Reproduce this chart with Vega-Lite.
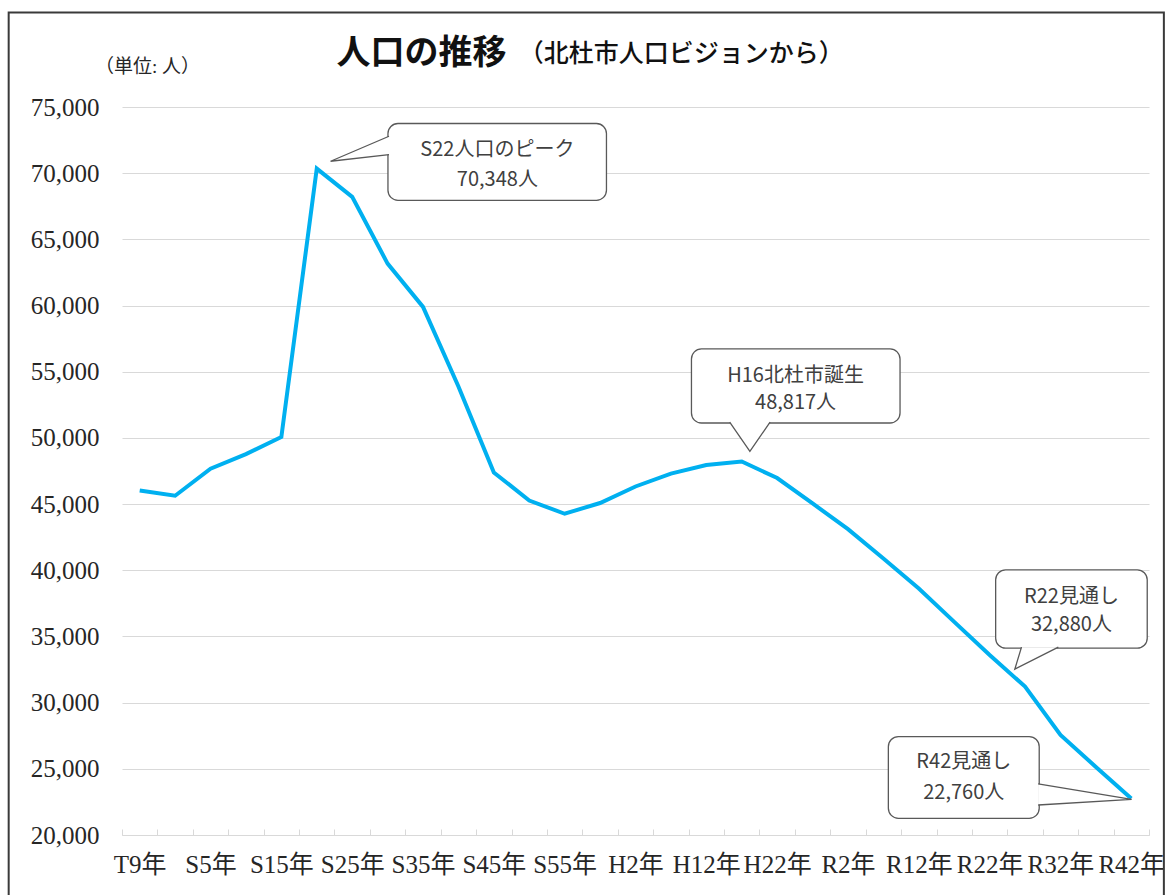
{
  "$schema": "https://vega.github.io/schema/vega-lite/v6.json",
  "autosize": {"type": "none"},
  "padding": {"left": 122, "top": 107, "right": 21, "bottom": 60},
  "width": 1027,
  "height": 728,
  "background": "white",
  "config": {"view": {"stroke": null}},
  "datasets": {
    "pop": [
      {"year": "T9年", "pop": 46030}, {"year": "T14年", "pop": 45630}, {"year": "S5年", "pop": 47670},
      {"year": "S10年", "pop": 48780}, {"year": "S15年", "pop": 50070}, {"year": "S22年", "pop": 70348},
      {"year": "S25年", "pop": 68210}, {"year": "S30年", "pop": 63170}, {"year": "S35年", "pop": 59900},
      {"year": "S40年", "pop": 53890}, {"year": "S45年", "pop": 47390}, {"year": "S50年", "pop": 45270},
      {"year": "S55年", "pop": 44270}, {"year": "S60年", "pop": 45080}, {"year": "H2年", "pop": 46330},
      {"year": "H7年", "pop": 47300}, {"year": "H12年", "pop": 47950}, {"year": "H17年", "pop": 48220},
      {"year": "H22年", "pop": 46970}, {"year": "H27年", "pop": 45050}, {"year": "R2年", "pop": 43110},
      {"year": "R7年", "pop": 40890}, {"year": "R12年", "pop": 38620}, {"year": "R17年", "pop": 36100},
      {"year": "R22年", "pop": 33600}, {"year": "R27年", "pop": 31210}, {"year": "R32年", "pop": 27560},
      {"year": "R37年", "pop": 25140}, {"year": "R42年", "pop": 22760}
    ],
    "boxes": [
      {"id": "a", "x1": 7.51, "x2": 13.68, "y1": 67953, "y2": 73752},
      {"id": "b", "x1": 16.08, "x2": 21.97, "y1": 51125, "y2": 56719},
      {"id": "c", "x1": 24.67, "x2": 28.95, "y1": 34114, "y2": 40034},
      {"id": "d", "x1": 21.64, "x2": 25.90, "y1": 21262, "y2": 27431}
    ],
    "pointers": [
      {"id": "a", "o": 1, "x": 7.54, "y": 72791}, {"id": "a", "o": 2, "x": 5.89, "y": 70901}, {"id": "a", "o": 3, "x": 7.54, "y": 71408},
      {"id": "b", "o": 1, "x": 17.16, "y": 51200}, {"id": "b", "o": 2, "x": 17.73, "y": 48977}, {"id": "b", "o": 3, "x": 18.30, "y": 51200},
      {"id": "c", "o": 1, "x": 25.40, "y": 34190}, {"id": "c", "o": 2, "x": 25.21, "y": 32527}, {"id": "c", "o": 3, "x": 26.44, "y": 34190},
      {"id": "d", "o": 1, "x": 25.87, "y": 23856}, {"id": "d", "o": 2, "x": 28.51, "y": 22699}, {"id": "d", "o": 3, "x": 25.87, "y": 22268}
    ],
    "notes": [
      {"x": 10.6, "y": 71786, "text": "S22人口のピーク"}, {"x": 10.6, "y": 69518, "text": "70,348人"},
      {"x": 19.02, "y": 54647, "text": "H16北杜市誕生"}, {"x": 19.02, "y": 52636, "text": "48,817人"},
      {"x": 26.81, "y": 38015, "text": "R22見通し"}, {"x": 26.81, "y": 35876, "text": "32,880人"},
      {"x": 23.77, "y": 25541, "text": "R42見通し"}, {"x": 23.77, "y": 23153, "text": "22,760人"}
    ],
    "frame": [{"x1": -3.2, "x2": 29.42, "y1": 14708, "y2": 82143}],
    "title1": [{"x": 8.46, "y": 78968, "text": "人口の推移"}],
    "title2": [{"x": 11.2, "y": 78968, "text": "（北杜市人口ビジョンから）"}],
    "unit": [{"x": 0.72, "y": 77985, "text": "（単位: 人）"}]
  },
  "resolve": {"scale": {"x": "independent"}, "axis": {"x": "independent"}},
  "layer": [
    {
      "data": {"name": "pop"},
      "mark": {"type": "line", "color": "#00B0F0", "strokeWidth": 4, "strokeJoin": "miter"},
      "encoding": {
        "x": {
          "field": "year", "type": "nominal", "sort": null, "bandPosition": 0.5,
          "scale": {"type": "band", "paddingInner": 0, "paddingOuter": 0},
          "axis": {
            "title": null, "tickBand": "extent", "labelAngle": 0, "labelOverlap": false,
            "labelExpr": "indexof(['T9年','S5年','S15年','S25年','S35年','S45年','S55年','H2年','H12年','H22年','R2年','R12年','R22年','R32年','R42年'], datum.value) >= 0 ? datum.value : ''",
            "labelFont": "'Liberation Serif', 'Noto Sans CJK JP'", "labelFontSize": 25, "labelColor": "#262626",
            "domainColor": "#D9D9D9", "tickColor": "#D9D9D9", "tickSize": -6, "labelPadding": 23, "grid": false
          }
        },
        "y": {
          "field": "pop", "type": "quantitative",
          "scale": {"domain": [20000, 75000], "nice": false, "zero": false},
          "axis": {
            "title": null, "values": [20000, 25000, 30000, 35000, 40000, 45000, 50000, 55000, 60000, 65000, 70000, 75000],
            "format": ",d", "labelFont": "'Liberation Serif'", "labelFontSize": 25, "labelColor": "#262626",
            "ticks": false, "domain": false, "labelPadding": 23, "gridColor": "#D9D9D9", "gridWidth": 1
          }
        }
      }
    },
    {
      "data": {"name": "frame"},
      "mark": {"type": "rect", "filled": false, "stroke": "#3a3a3a", "strokeWidth": 2},
      "encoding": {
        "x": {"field": "x1", "type": "quantitative", "scale": {"domain": [0, 29], "nice": false, "zero": false}, "axis": null},
        "x2": {"field": "x2"},
        "y": {"field": "y1", "type": "quantitative"},
        "y2": {"field": "y2"}
      }
    },
    {
      "data": {"name": "boxes"},
      "mark": {"type": "rect", "fill": "white", "stroke": "#595959", "strokeWidth": 1.3, "cornerRadius": 10},
      "encoding": {
        "x": {"field": "x1", "type": "quantitative", "scale": {"domain": [0, 29], "nice": false, "zero": false}, "axis": null},
        "x2": {"field": "x2"},
        "y": {"field": "y1", "type": "quantitative"},
        "y2": {"field": "y2"}
      }
    },
    {
      "data": {"name": "pointers"},
      "mark": {"type": "line", "fill": "white", "stroke": "#595959", "strokeWidth": 1.3, "strokeJoin": "miter"},
      "encoding": {
        "x": {"field": "x", "type": "quantitative", "scale": {"domain": [0, 29], "nice": false, "zero": false}, "axis": null},
        "y": {"field": "y", "type": "quantitative"},
        "detail": {"field": "id"},
        "order": {"field": "o"}
      }
    },
    {
      "data": {"name": "notes"},
      "mark": {"type": "text", "font": "'Noto Sans CJK JP'", "fontSize": 20, "color": "#404040", "align": "center", "baseline": "middle"},
      "encoding": {
        "x": {"field": "x", "type": "quantitative", "scale": {"domain": [0, 29], "nice": false, "zero": false}, "axis": null},
        "y": {"field": "y", "type": "quantitative"},
        "text": {"field": "text"}
      }
    },
    {
      "data": {"name": "title1"},
      "mark": {"type": "text", "font": "'Noto Sans CJK JP'", "fontSize": 34, "fontWeight": "bold", "color": "#111111", "align": "center", "baseline": "middle"},
      "encoding": {
        "x": {"field": "x", "type": "quantitative", "scale": {"domain": [0, 29], "nice": false, "zero": false}, "axis": null},
        "y": {"field": "y", "type": "quantitative"},
        "text": {"field": "text"}
      }
    },
    {
      "data": {"name": "title2"},
      "mark": {"type": "text", "font": "'Noto Sans CJK JP'", "fontSize": 25, "fontWeight": 500, "color": "#111111", "align": "left", "baseline": "middle"},
      "encoding": {
        "x": {"field": "x", "type": "quantitative", "scale": {"domain": [0, 29], "nice": false, "zero": false}, "axis": null},
        "y": {"field": "y", "type": "quantitative"},
        "text": {"field": "text"}
      }
    },
    {
      "data": {"name": "unit"},
      "mark": {"type": "text", "font": "'Liberation Serif', 'Noto Sans CJK JP'", "fontSize": 19, "color": "#262626", "align": "center", "baseline": "middle"},
      "encoding": {
        "x": {"field": "x", "type": "quantitative", "scale": {"domain": [0, 29], "nice": false, "zero": false}, "axis": null},
        "y": {"field": "y", "type": "quantitative"},
        "text": {"field": "text"}
      }
    }
  ]
}
